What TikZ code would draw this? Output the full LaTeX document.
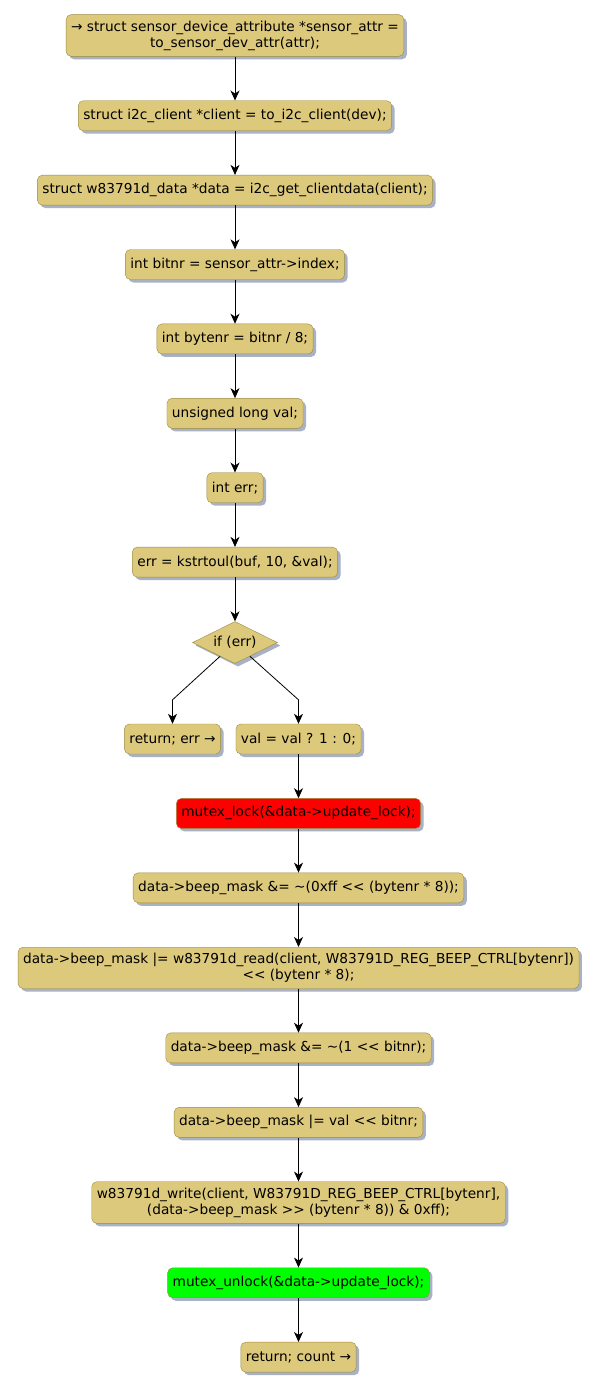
\documentclass[tikz,border=0pt]{standalone}
\usepackage{fontspec}
\setmainfont{DejaVu Sans}
\usepackage{xcolor}
\definecolor{actfill}{HTML}{DDC97B}
\definecolor{actline}{HTML}{9C8A3E}
\definecolor{actshadow}{HTML}{A9B1C4}
\definecolor{lockred}{HTML}{FF0000}
\definecolor{unlockgreen}{HTML}{00FF00}
\usetikzlibrary{arrows.meta,positioning,shapes.geometric,shadows,calc}
% keep << and >> from turning into guillemets
\newcommand{\shl}{<\kern0pt<}
\newcommand{\shr}{>\kern0pt>}

\begin{document}
\begin{tikzpicture}[x=1pt,y=-1pt,node distance=44pt,>={Stealth[length=10pt,width=9pt,inset=3pt]},font=\fontsize{13.7}{16}\selectfont]
\tikzset{
 act/.style={draw=actline,fill=actfill,rounded corners=5pt,minimum height=30pt,inner xsep=5pt,inner ysep=6pt,align=center,drop shadow={shadow xshift=3pt,shadow yshift=-3pt,fill=actshadow,opacity=1}},
 test/.style={diamond,aspect=2,draw=actline,fill=actfill,minimum width=85pt,minimum height=42pt,inner sep=0pt,drop shadow={shadow xshift=3pt,shadow yshift=-3pt,fill=actshadow,opacity=1}},
 arrow/.style={->,line width=0.8pt,draw=black}
}
\useasboundingbox (0,0) rectangle (599,1389);
\node[act] (attr) at (235,35.5) {→ struct sensor\_device\_attribute *sensor\_attr =\\to\_sensor\_dev\_attr(attr);};
\node[act,below=of attr] (client) {struct i2c\_client *client = to\_i2c\_client(dev);};
\node[act,below=of client] (data) {struct w83791d\_data *data = i2c\_get\_clientdata(client);};
\node[act,below=of data] (bitnr) {int bitnr = sensor\_attr->index;};
\node[act,below=of bitnr] (bytenr) {int bytenr = bitnr / 8;};
\node[act,below=of bytenr] (val) {unsigned long val;};
\node[act,below=of val] (err) {int err;};
\node[act,below=of err] (parse) {err = kstrtoul(buf, 10, \&val);};
\node[test,below=of parse] (iferr) {if (err)};
\node[act] (reterr) at (172.5,739) {return; err →};
\node[act] (setval) at (298.5,739) {val = val ? 1 : 0;};
\node[act,below=of setval,fill=lockred] (lock) {mutex\_lock(\&data->update\_lock);};
\node[act,below=of lock] (clrbyte) {data->beep\_mask \&= \textasciitilde(0xff \shl{} (bytenr * 8));};
\node[act,below=of clrbyte] (readbyte) {data->beep\_mask |= w83791d\_read(client, W83791D\_REG\_BEEP\_CTRL[bytenr])\\\shl{} (bytenr * 8);};
\node[act,below=of readbyte] (clrbit) {data->beep\_mask \&= \textasciitilde(1 \shl{} bitnr);};
\node[act,below=of clrbit] (setbit) {data->beep\_mask |= val \shl{} bitnr;};
\node[act,below=of setbit] (write) {w83791d\_write(client, W83791D\_REG\_BEEP\_CTRL[bytenr],\\(data->beep\_mask \shr{} (bytenr * 8)) \& 0xff);};
\node[act,below=of write,fill=unlockgreen] (unlock) {mutex\_unlock(\&data->update\_lock);};
\node[act,below=of unlock] (retcount) {return; count →};

\draw[arrow] (attr) -- (client);
\draw[arrow] (client) -- (data);
\draw[arrow] (data) -- (bitnr);
\draw[arrow] (bitnr) -- (bytenr);
\draw[arrow] (bytenr) -- (val);
\draw[arrow] (val) -- (err);
\draw[arrow] (err) -- (parse);
\draw[arrow] (parse) -- (iferr);
\draw[arrow] ($(iferr.south)!0.35!(iferr.west)$) -- ($(reterr.north)+(0,-24)$) -- (reterr.north);
\draw[arrow] ($(iferr.south)!0.35!(iferr.east)$) -- ($(setval.north)+(0,-24)$) -- (setval.north);
\draw[arrow] (setval) -- (lock);
\draw[arrow] (lock) -- (clrbyte);
\draw[arrow] (clrbyte) -- (readbyte);
\draw[arrow] (readbyte) -- (clrbit);
\draw[arrow] (clrbit) -- (setbit);
\draw[arrow] (setbit) -- (write);
\draw[arrow] (write) -- (unlock);
\draw[arrow] (unlock) -- (retcount);
\end{tikzpicture}
\end{document}
